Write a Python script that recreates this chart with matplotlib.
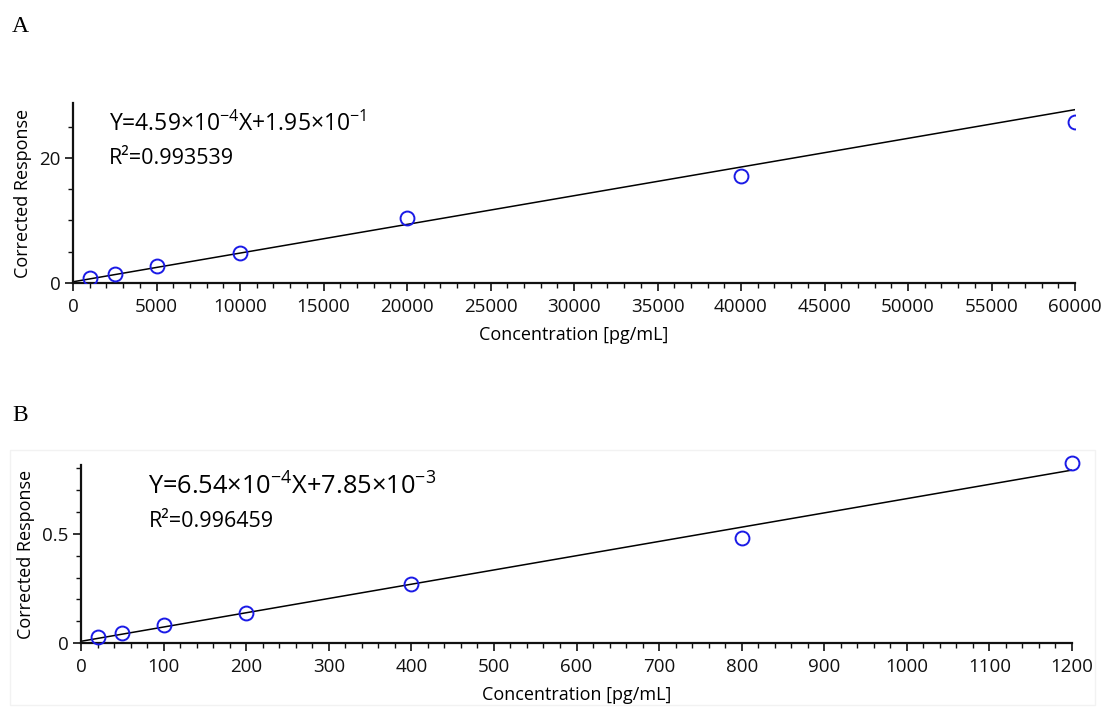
import matplotlib
matplotlib.use("Agg")
import matplotlib.pyplot as plt
from matplotlib.ticker import MultipleLocator
import numpy as np

plt.rcParams['font.family'] = ['Open Sans', 'DejaVu Sans']
plt.rcParams['mathtext.fontset'] = 'custom'
plt.rcParams['mathtext.rm'] = 'Open Sans'
plt.rcParams['mathtext.it'] = 'Open Sans'

# Panel A data
conc_a = [1000, 2500, 5000, 10000, 20000, 40000, 60000]
resp_a = [0.8, 1.4, 2.7, 4.8, 10.4, 17.1, 25.8]
slope_a, icpt_a = 4.59e-4, 1.95e-1
eq_a = r"Y=4.59×10$^{-4}$X+1.95×10$^{-1}$"
r2_a = "R²=0.993539"

# Panel B data
conc_b = [20, 50, 100, 200, 400, 800, 1200]
resp_b = [0.028, 0.046, 0.083, 0.138, 0.27, 0.48, 0.826]
slope_b, icpt_b = 6.54e-4, 7.85e-3
eq_b = r"Y=6.54×10$^{-4}$X+7.85×10$^{-3}$"
r2_b = "R²=0.996459"

W, H = 1104, 707
fig = plt.figure(figsize=(W / 100, H / 100), dpi=100)

def ax_rect(l, r, t, b):
    return [l / W, 1 - b / H, (r - l) / W, (b - t) / H]

# faint frame around panel B
fig.patches.append(plt.Rectangle((10 / W, 1 - 705 / H), 1085 / W, 255 / H,
                                 transform=fig.transFigure, fill=False,
                                 edgecolor='#f2f2f2', lw=1))

def style(ax, xmaj, xmin, ymaj, ymin):
    for s in ['top', 'right']:
        ax.spines[s].set_visible(False)
    for s in ['left', 'bottom']:
        ax.spines[s].set_linewidth(1.6)
        ax.spines[s].set_color('#111111')
    ax.xaxis.set_major_locator(MultipleLocator(xmaj))
    ax.xaxis.set_minor_locator(MultipleLocator(xmin))
    ax.yaxis.set_major_locator(MultipleLocator(ymaj))
    ax.yaxis.set_minor_locator(MultipleLocator(ymin))
    ax.tick_params(which='major', length=6, width=1.2, labelsize=13.5, colors='#111111', pad=3)
    ax.tick_params(axis='x', which='major', pad=5)
    ax.tick_params(which='minor', length=3.5, width=1.0, colors='#111111')

# Panel A
axA = fig.add_axes(ax_rect(73, 1075, 103, 283))
xa = np.array([0, 60000])
axA.plot(xa, slope_a * xa + icpt_a, color='black', lw=1.1, zorder=2)
axA.plot(conc_a, resp_a, 'o', mfc='none', mec='#1a1ae6', mew=1.4, ms=10, zorder=3)
axA.set_xlim(0, 60000)
axA.set_ylim(0, 28.8)
style(axA, 5000, 1000, 20, 5)
axA.set_xlabel("Concentration [pg/mL]", fontsize=13, labelpad=7)
axA.set_ylabel("Corrected Response", fontsize=13, labelpad=5)
axA.text(0.036, 0.95, eq_a, transform=axA.transAxes, fontsize=16.5, va='top', ha='left')
axA.text(0.036, 0.75, r2_a, transform=axA.transAxes, fontsize=15.5, va='top', ha='left')

# Panel B
axB = fig.add_axes(ax_rect(81, 1072, 465, 643))
xb = np.array([0, 1200])
axB.plot(xb, slope_b * xb + icpt_b, color='black', lw=1.1, zorder=2)
axB.plot(conc_b, resp_b, 'o', mfc='none', mec='#1a1ae6', mew=1.4, ms=10, zorder=3, clip_on=False)
axB.set_xlim(0, 1200)
axB.set_ylim(0, 0.816)
style(axB, 100, 20, 0.5, 0.1)
axB.set_xlabel("Concentration [pg/mL]", fontsize=13, labelpad=7)
axB.set_ylabel("Corrected Response", fontsize=13, labelpad=5)
axB.yaxis.set_major_formatter(matplotlib.ticker.FuncFormatter(lambda v, p: "0" if v == 0 else f"{v:g}"))
axB.text(0.068, 0.95, eq_b, transform=axB.transAxes, fontsize=18.3, va='top', ha='left')
axB.text(0.068, 0.74, r2_b, transform=axB.transAxes, fontsize=15.5, va='top', ha='left')

fig.text(12 / W, 1 - 32 / H, "A", fontsize=17, family='Liberation Serif')
fig.text(12 / W, 1 - 421 / H, "B", fontsize=17, family='Liberation Serif')

fig.savefig("out.png", dpi=100)
